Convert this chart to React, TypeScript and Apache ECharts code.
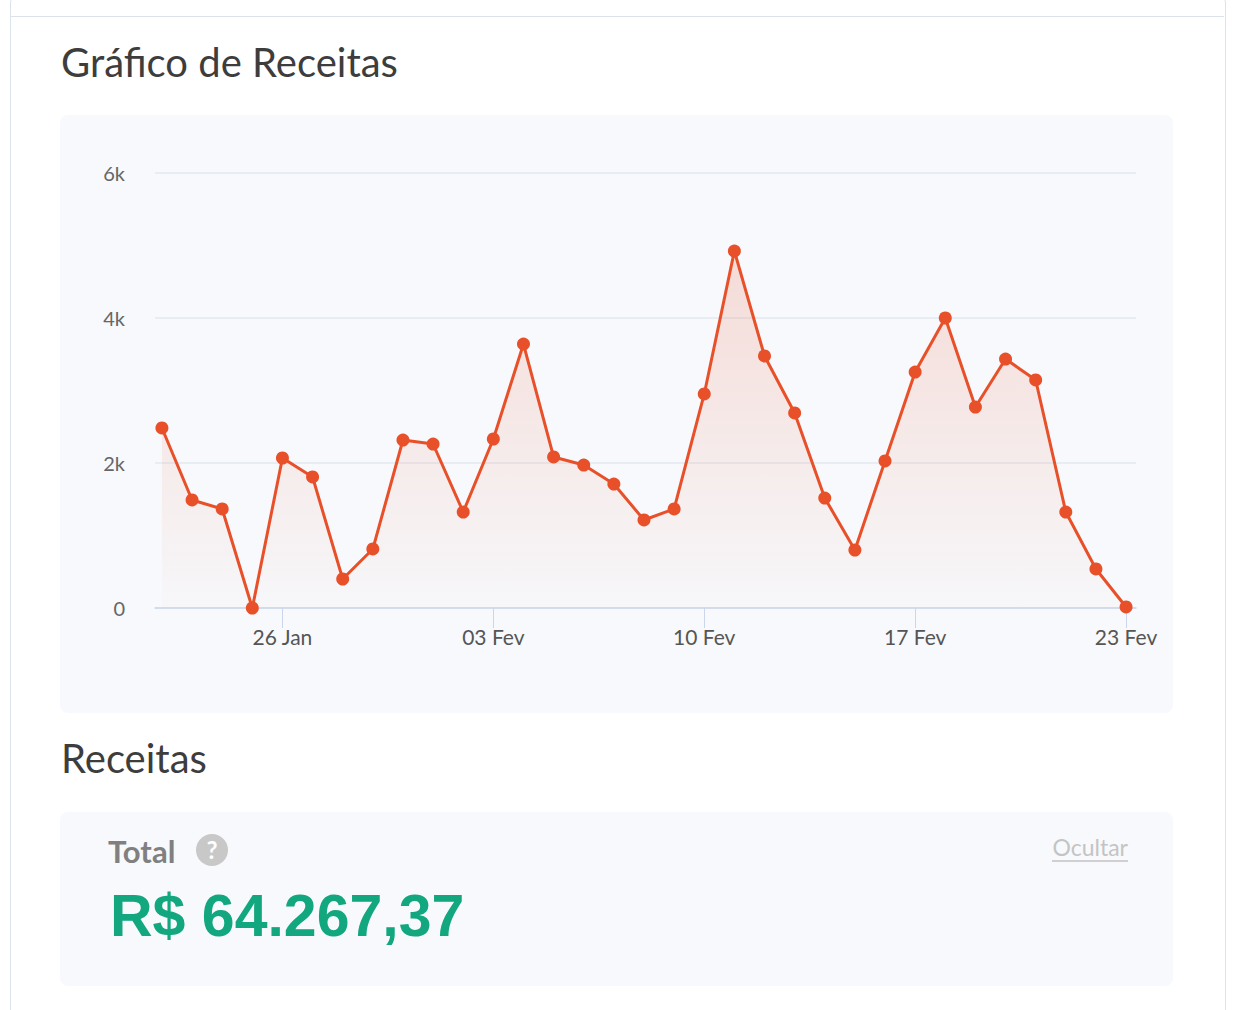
import React, { useEffect, useRef } from 'react';
import * as echarts from 'echarts';

const receitas = [
  2483, 1490, 1366, 0, 2069, 1807, 400, 814, 2317, 2262, 1324, 2331, 3641, 2083, 1972, 1710, 1214,
  1366, 2952, 4924, 3476, 2690, 1517, 800, 2028, 3255, 4000, 2772, 3434, 3145, 1324, 538, 14,
];
const tickIndexes = [4, 11, 18, 25, 32];
const tickLabels = ['26 Jan', '03 Fev', '10 Fev', '17 Fev', '23 Fev'];
const yTicks = [0, 2000, 4000, 6000];

const font = 'Lato, "Noto Sans", sans-serif';

const Chart: React.FC = () => {
  const chartRef = useRef<HTMLDivElement>(null);

  useEffect(() => {
    if (!chartRef.current) return;
    const myChart = echarts.init(chartRef.current, undefined, { renderer: 'svg' });
    myChart.setOption({
      animation: false,
      grid: { left: 95, right: 37, top: 58, bottom: 105 },
      xAxis: {
        type: 'value',
        min: -0.23,
        max: 32.33,
        splitLine: { show: false },
        axisLine: { show: true, lineStyle: { color: '#ccd6eb', width: 1.5 } },
        axisTick: { show: true, customValues: tickIndexes, length: 20, inside: false, lineStyle: { color: '#ccd6eb' } },
        axisLabel: {
          customValues: tickIndexes,
          formatter: (v: number) => tickLabels[tickIndexes.indexOf(Math.round(v))] ?? '',
          color: '#555',
          fontSize: 21,
          fontFamily: font,
          margin: 18,
        },
      },
      yAxis: {
        type: 'value',
        min: 0,
        max: 6000,
        interval: 2000,
        axisLine: { show: false },
        axisTick: { show: false },
        splitLine: { lineStyle: { color: '#e3e8f0', width: 1.5 } },
        axisLabel: {
          formatter: (v: number) => (yTicks.includes(v) ? (v === 0 ? '0' : v / 1000 + 'k') : ''),
          color: '#666',
          fontSize: 20,
          fontFamily: font,
          margin: 30,
        },
      },
      series: [
        {
          type: 'line',
          data: receitas.map((v, i) => [i, v]),
          symbol: 'circle',
          symbolSize: 13,
          itemStyle: { color: '#e8502a' },
          lineStyle: { color: '#e8502a', width: 3 },
          areaStyle: {
            color: new echarts.graphic.LinearGradient(0, 0, 0, 1, [
              { offset: 0, color: 'rgba(232,80,42,0.25)' },
              { offset: 1, color: 'rgba(232,80,42,0.02)' },
            ]),
          },
        },
      ],
    });
    return () => myChart.dispose();
  }, []);

  return <div ref={chartRef} style={{ width: 1113, height: 598 }} />;
};

const App: React.FC = () => {
  useEffect(() => {
    document.body.style.margin = '0';
  }, []);
  return (
    <div style={{ position: 'relative', width: 1252, height: 1010, background: '#fff', fontFamily: font, overflow: 'hidden' }}>
      <div style={{ position: 'absolute', left: 10, top: -2, width: 1214, height: 1020, border: '1.5px solid #dde3ea', borderRadius: 4 }} />
      <div style={{ position: 'absolute', left: 10, top: 16, width: 1214, borderTop: '1.5px solid #dde3ea' }} />
      <div style={{ position: 'absolute', left: 61, top: 38, fontSize: 40, color: '#3d3d3d' }}>Gráfico de Receitas</div>
      <div style={{ position: 'absolute', left: 60, top: 115, width: 1113, height: 598, background: '#f7f9fc', borderRadius: 8 }}>
        <Chart />
      </div>
      <div style={{ position: 'absolute', left: 61, top: 734, fontSize: 40, color: '#3d3d3d' }}>Receitas</div>
      <div style={{ position: 'absolute', left: 60, top: 812, width: 1113, height: 174, background: '#f7f9fc', borderRadius: 8 }}>
        <div style={{ position: 'absolute', left: 48, top: 20, fontSize: 31, fontWeight: 700, color: '#808080' }}>Total</div>
        <div style={{ position: 'absolute', left: 136, top: 22, width: 32, height: 32, borderRadius: 16, background: '#c8c8c8', color: '#fff', fontSize: 24, fontWeight: 700, textAlign: 'center', lineHeight: '32px' }}>?</div>
        <div style={{ position: 'absolute', right: 45, top: 22, fontSize: 23, color: '#c4c4c4', borderBottom: '2px solid #d0d0d0', lineHeight: '26px' }}>Ocultar</div>
        <div style={{ position: 'absolute', left: 50, top: 70, fontSize: 59, fontWeight: 900, color: '#12a77e', fontFamily: '"Liberation Sans", Arial, sans-serif' }}>R$ 64.267,37</div>
      </div>
    </div>
  );
};

export default App;
